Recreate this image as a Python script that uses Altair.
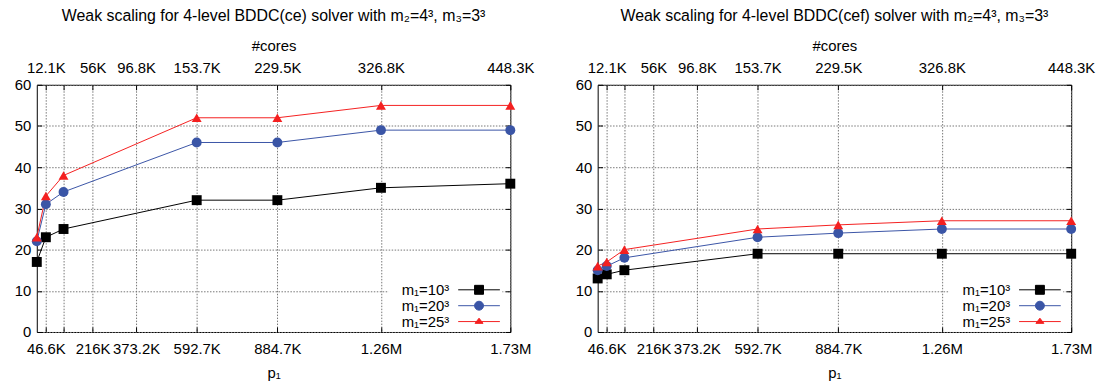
import altair as alt
import pandas as pd

# ---------------- data ----------------
p1 = [13824, 46656, 110592, 592704, 884736, 1259712, 1728000]
series = ["m₁=10³", "m₁=20³", "m₁=25³"]

ce_m10 = [17, 23, 25, 32, 32, 35, 36]
ce_m20 = [22, 31, 34, 46, 46, 49, 49]
ce_m25 = [23, 33, 38, 52, 52, 55, 55]

cef_m10 = [13, 14, 15, 19, 19, 19, 19]
cef_m20 = [15, 16, 18, 23, 24, 25, 25]
cef_m25 = [16, 17, 20, 25, 26, 27, 27]

x_ticks = [46656, 110592, 216000, 373248, 592704, 884736, 1259712, 1728000]
p1_labels = ["46.6K", "", "216K", "373.2K", "592.7K", "884.7K", "1.26M", "1.73M"]
core_labels = ["12.1K", "", "56K", "96.8K", "153.7K", "229.5K", "326.8K", "448.3K"]
y_ticks = [0, 10, 20, 30, 40, 50, 60]

titles = [
    "Weak scaling for 4-level BDDC(ce) solver with m₂=4³, m₃=3³",
    "Weak scaling for 4-level BDDC(cef) solver with m₂=4³, m₃=3³",
]

# ---------------- style ----------------
W, H = 477, 249
FONT = "Liberation Sans"
colors = ["#000000", "#3a55a6", "#f42020"]
shapes = ["square", "circle", "triangle-up"]
sizes = [100, 100, 81]
# legend glyphs: line sample with the marker in its middle, drawn to the
# right of the symbol anchor so the label can sit on the left
legend_shapes = [
    "M3.6,0H12M6.9,-0.9H8.7V0.9H6.9Z",
    "M3.6,0H12M8.7,0A0.9,0.9,0,1,1,6.9,0A0.9,0.9,0,1,1,8.7,0Z",
    "M3.6,0H12M7.8,-0.68L8.6,0.36H7Z",
]


def label_expr(values, labels):
    s = ""
    for v, l in zip(values, labels):
        s += f"datum.value == {v} ? '{l}' : "
    return s + "''"


def color_expr():
    s = ""
    for name, c in zip(series[1:], colors[1:]):
        s += f"datum.value == '{name}' ? '{c}' : "
    return s + f"'{colors[0]}'"


def panel(vals, title):
    rows = []
    for name, ys in zip(series, vals):
        for x, y in zip(p1, ys):
            rows.append({"p1": x, "it": y, "series": name})
    df = pd.DataFrame(rows)
    base = alt.Chart(df)
    xs = alt.Scale(domain=[p1[0], p1[-1]], nice=False, zero=False)
    ysc = alt.Scale(domain=[0, 60], nice=False)
    cscale = alt.Scale(domain=series, range=colors)

    lines = base.mark_line(strokeWidth=1).encode(
        x=alt.X("p1:Q", scale=xs, axis=alt.Axis(
            orient="bottom", values=x_ticks, labelExpr=label_expr(x_ticks, p1_labels),
            title="p₁", grid=True, ticks=False, tickSize=0, domain=False,
            labelPadding=10, titlePadding=9, labelOverlap=False, labelFlush=False)),
        y=alt.Y("it:Q", scale=ysc, axis=alt.Axis(
            orient="left", values=y_ticks, grid=True, ticks=False, tickSize=0,
            domain=False, title=None, labelPadding=6)),
        color=alt.Color("series:N", scale=cscale, legend=None),
    )

    points = base.mark_point(filled=True, opacity=1).encode(
        x=alt.X("p1:Q", scale=xs, axis=alt.Axis(
            orient="top", values=x_ticks, labelExpr=label_expr(x_ticks, core_labels),
            title="#cores", grid=False, ticks=False, tickSize=0, domain=False,
            labelPadding=9, titlePadding=8, labelOverlap=False, labelFlush=False)),
        y=alt.Y("it:Q", scale=ysc, axis=None),
        color=alt.Color("series:N", scale=cscale, legend=None),
        shape=alt.Shape("series:N", scale=alt.Scale(domain=series, range=shapes), legend=None),
        size=alt.Size("series:N", scale=alt.Scale(domain=series, range=sizes), legend=None),
    )

    leg = alt.Legend(
        orient="none", legendX=354, legendY=199, title=None,
        labelAlign="right", labelOffset=1.5, symbolOffset=45,
        symbolSize=100, rowPadding=0, padding=0,
        fillColor="white", labelFont=FONT, labelFontSize=15, labelColor="black",
        symbolStrokeWidth=1, symbolOpacity=1,
        symbolFillColor={"expr": color_expr()},
        symbolStrokeColor={"expr": color_expr()},
    )
    legend_layer = base.mark_point(filled=True, strokeWidth=1).encode(
        x=alt.X("p1:Q", scale=xs, axis=alt.Axis(
            orient="top", offset=-H, values=x_ticks, labels=False, ticks=True,
            tickSize=5, tickColor="black", grid=False, domain=False, title=None)),
        y=alt.Y("it:Q", scale=ysc, axis=alt.Axis(
            orient="right", offset=-W, values=y_ticks, labels=False, ticks=True,
            tickSize=5, tickColor="black", grid=False, domain=False, title=None)),
        fill=alt.Fill("series:N", scale=alt.Scale(domain=series, range=colors), legend=None),
        stroke=alt.Stroke("series:N", scale=alt.Scale(domain=series, range=colors), legend=None),
        shape=alt.Shape("series:N", scale=alt.Scale(domain=series, range=legend_shapes), legend=leg),
    ).transform_filter("false")

    tick_layer = base.mark_point().encode(
        x=alt.X("p1:Q", scale=xs, axis=alt.Axis(
            orient="bottom", offset=-H, values=x_ticks, labels=False, ticks=True,
            tickSize=5, tickColor="black", grid=False, domain=False, title=None)),
        y=alt.Y("it:Q", scale=ysc, axis=alt.Axis(
            orient="left", offset=-W, values=y_ticks, labels=False, ticks=True,
            tickSize=5, tickColor="black", grid=False, domain=False, title=None)),
    ).transform_filter("false")

    return alt.layer(lines, points, legend_layer, tick_layer).resolve_axis(
        x="independent", y="independent"
    ).resolve_scale(shape="independent").properties(
        width=W, height=H,
        title=alt.TitleParams(title, fontSize=16, font=FONT, fontWeight="normal",
                              anchor="middle", frame="group", offset=14,
                              color="black"),
    )


left = panel([ce_m10, ce_m20, ce_m25], titles[0])
right = panel([cef_m10, cef_m20, cef_m25], titles[1])

chart = alt.hconcat(left, right, spacing=39).resolve_scale(
    color="independent", fill="independent", stroke="independent",
    shape="independent", size="independent",
).properties(
    padding={"left": 5, "top": -2, "right": 0, "bottom": 0}
).configure_view(
    stroke="black", strokeWidth=1
).configure_axis(
    labelFont=FONT, labelFontSize=15, labelColor="black",
    titleFont=FONT, titleFontSize=15, titleFontWeight="normal", titleColor="black",
    gridColor="#777777", gridDash=[1.5, 1.5], gridWidth=1,
).configure_legend(
    labelFont=FONT, labelFontSize=15,
)

chart.save("out.html", embed_options={"renderer": "svg", "actions": False})
